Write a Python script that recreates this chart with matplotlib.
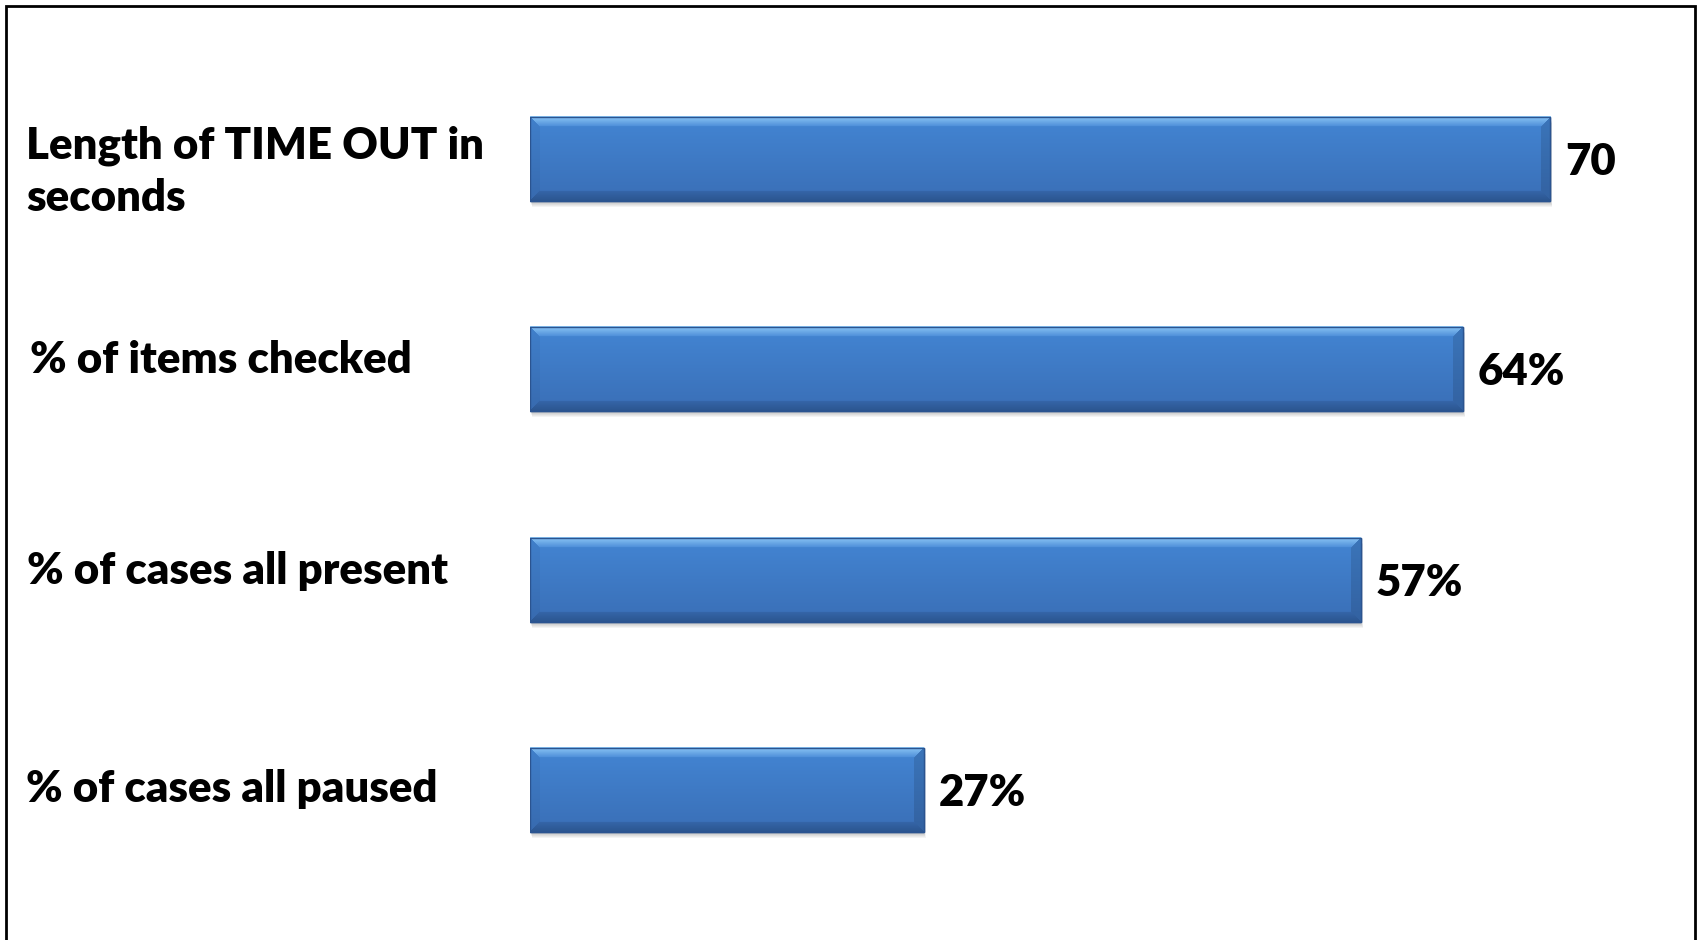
import numpy as np
import matplotlib
matplotlib.use('Agg')
import matplotlib.pyplot as plt
from matplotlib import colors as mcolors
from matplotlib.patches import Rectangle
from matplotlib.transforms import blended_transform_factory, offset_copy

# ---- data ----
categories = ['Length of TIME OUT in\nseconds', '% of items checked',
              '% of cases all present', '% of cases all paused']
values = [70, 64, 57, 27]
value_labels = ['70', '64%', '57%', '27%']

# ---- style ----
W, H = 1698, 940
FONT = 'Lato'
FS = 31.5
label_x_px = [26, 30, 27, 26]
label_dy_px = [-1, 4, 4, 12]     # first-line baseline offset below category centre (px)
LINE_PX = 53

fig = plt.figure(figsize=(W / 100, H / 100), dpi=100)
fig.patch.set_facecolor('white')
ax = fig.add_axes([530 / W, 1 - 895 / H, (1696 - 530) / W, (895 - 54) / H])
ax.set_xlim(0, 80)
ax.set_ylim(3.5, -0.5)
ax.axis('off')

# outer frame
fig.patches.append(Rectangle((6 / W, -0.05), (1695 - 6) / W, 1.05 - 6 / H,
                             transform=fig.transFigure, fill=False,
                             edgecolor='black', linewidth=2, zorder=0))

ypos = np.arange(len(values))
bh = 0.4
bars = ax.barh(ypos, values, height=bh, color='#4080cc', edgecolor='#2b5490',
               linewidth=1.0, zorder=3)

top_hi = np.array(mcolors.to_rgb('#8cc6f5'))
top_lo = np.array(mcolors.to_rgb('#4b8cd8'))
body_t = np.array(mcolors.to_rgb('#4385d3'))
body_b = np.array(mcolors.to_rgb('#3a6fb7'))
bot_t = np.array(mcolors.to_rgb('#3666aa'))
bot_b = np.array(mcolors.to_rgb('#2c5690'))

bev = 10
for bar, v in zip(bars, values):
    x0, y0 = bar.get_x(), bar.get_y()
    w, h = bar.get_width(), bar.get_height()
    p0 = ax.transData.transform((x0, y0))
    p1 = ax.transData.transform((x0 + w, y0 + h))
    pw = int(round(abs(p1[0] - p0[0])))
    ph = int(round(abs(p1[1] - p0[1])))
    rr, cc = np.mgrid[0:ph, 0:pw]
    t = (rr / max(ph - 1, 1))[..., None]
    img = body_t * (1 - t) + body_b * t
    rb = ph - 1 - rr
    cr = pw - 1 - cc
    top = (rr < bev) & (rr <= cc) & (rr <= cr)
    bot = (rb < bev) & (rb <= cc) & (rb <= cr)
    left = (cc < bev) & ~top & ~bot
    right = (cr < bev) & ~top & ~bot
    tt = (rr / bev)[..., None]
    img = np.where(top[..., None], top_hi * (1 - tt) + top_lo * tt, img)
    tb = (1 - rb / bev)[..., None]
    img = np.where(bot[..., None], bot_t * (1 - tb) + bot_b * tb, img)
    img = np.where(left[..., None], img * 0.96, img)
    img = np.where(right[..., None], img * 0.88, img)
    ax.imshow(img, extent=(x0, x0 + w, y0 + h, y0), origin='upper',
              aspect='auto', zorder=3.5, interpolation='bilinear')
    # shadow
    for k in range(1, 7):
        sh = offset_copy(ax.transData, fig=fig, x=k * 0.25, y=-k * 0.72, units='points')
        ax.add_patch(Rectangle((x0, y0), w, h, transform=sh, facecolor='#000000',
                               alpha=0.045, edgecolor='none', zorder=2))
    ax.add_patch(Rectangle((x0, y0), w, h, fill=False, edgecolor='#2b5490',
                           linewidth=1.0, zorder=4))

ax.set_xlim(0, 80)
ax.set_ylim(3.5, -0.5)

# value labels
for yi, v, lab in zip(ypos, values, value_labels):
    ax.annotate(lab, xy=(v, yi), xytext=(11, -16 * 0.72), textcoords='offset points',
                ha='left', va='baseline', fontsize=FS, fontweight='heavy',
                family=FONT, color='black', zorder=5, annotation_clip=False)

# category labels (each line drawn on its own baseline)
tr = blended_transform_factory(fig.transFigure, ax.transData)
for yi, cat, lx, dy in zip(ypos, categories, label_x_px, label_dy_px):
    for li, line in enumerate(cat.split('\n')):
        t = offset_copy(tr, fig=fig, x=0, y=-(dy + li * LINE_PX) * 0.72, units='points')
        fig.text(lx / W, yi, line, transform=t, ha='left', va='baseline',
                 fontsize=FS, fontweight='heavy', family=FONT, color='black')

fig.savefig('out.png', dpi=100, facecolor='white')
